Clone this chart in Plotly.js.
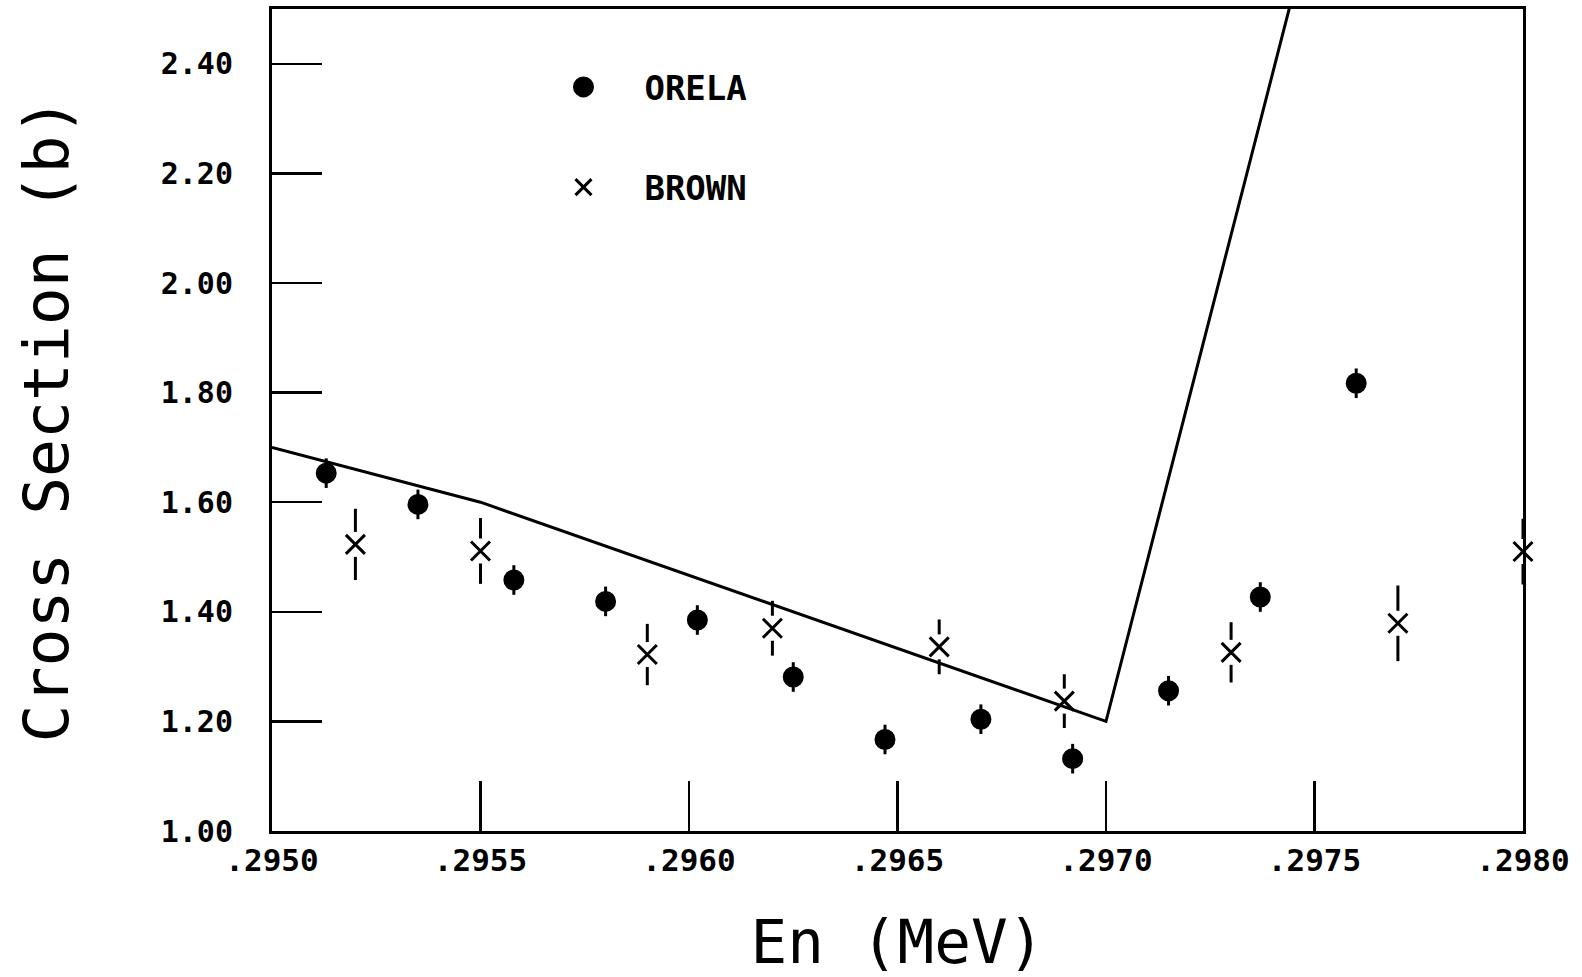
<!DOCTYPE html>
<html>
<head>
<meta charset="utf-8">
<script src="https://cdn.plot.ly/plotly-3.0.1.min.js"></script>
<style>html,body{margin:0;padding:0;background:#fff;}#chart{width:1582px;height:977px;}</style>
</head>
<body>
<div id="chart"></div>
<script>
// ---- data ----
var orelaX = [0.29513, 0.29535, 0.29558, 0.29580, 0.29602, 0.29625, 0.29647, 0.29670, 0.29692, 0.29715, 0.29737, 0.29760];
var orelaY = [1.653, 1.596, 1.458, 1.419, 1.385, 1.281, 1.167, 1.204, 1.132, 1.256, 1.427, 1.817];
var orelaErr = [0.027, 0.027, 0.027, 0.027, 0.027, 0.027, 0.027, 0.027, 0.027, 0.027, 0.027, 0.027];

var brownX = [0.2952, 0.2955, 0.2959, 0.2962, 0.2966, 0.2969, 0.2973, 0.2977, 0.2980];
var brownY = [1.523, 1.511, 1.322, 1.370, 1.336, 1.237, 1.326, 1.379, 1.510];
var brownErr = [0.065, 0.060, 0.056, 0.050, 0.050, 0.049, 0.055, 0.069, 0.060];

var curveX = [0.2950, 0.2955, 0.2970, 0.2975];
var curveY = [1.70, 1.60, 1.20, 2.68];

var xTickVals = [0.2950, 0.2955, 0.2960, 0.2965, 0.2970, 0.2975, 0.2980];
var xTickText = ['.2950', '.2955', '.2960', '.2965', '.2970', '.2975', '.2980'];
var yTickVals = [1.00, 1.20, 1.40, 1.60, 1.80, 2.00, 2.20, 2.40];
var yTickText = ['1.00', '1.20', '1.40', '1.60', '1.80', '2.00', '2.20', '2.40'];

var FONT = 'DejaVu Sans Mono, monospace';
var NB = '\u00a0';

var traces = [
  { // Brown error bars with a white mask behind the X
    x: brownX, y: brownY, type: 'scatter', mode: 'markers',
    marker: {symbol: 'square', size: 25, color: '#ffffff', line: {width: 0}},
    error_y: {type: 'data', array: brownErr, visible: true, color: '#000', thickness: 3, width: 0},
    showlegend: false, hoverinfo: 'skip', cliponaxis: false
  },
  {
    x: orelaX, y: orelaY, type: 'scatter', mode: 'markers', name: NB + NB + 'ORELA',
    legendgroup: 'a',
    marker: {symbol: 'circle', size: 16, color: '#000', line: {width: 5, color: '#000'}},
    error_y: {type: 'data', array: orelaErr, visible: true, color: '#000', thickness: 3, width: 0},
    cliponaxis: false
  },
  {
    x: brownX, y: brownY, type: 'scatter', mode: 'markers', name: NB + NB + 'BROWN',
    legendgroup: 'b',
    marker: {symbol: 'x-thin-open', size: 19, color: '#000', line: {width: 3, color: '#000'}},
    cliponaxis: false
  },
  {
    x: curveX, y: curveY, type: 'scatter', mode: 'lines',
    line: {color: '#000', width: 3},
    showlegend: false, hoverinfo: 'skip'
  }
];

var layout = {
  width: 1582, height: 977,
  paper_bgcolor: '#fff', plot_bgcolor: '#fff',
  margin: {l: 272, r: 59, t: 9, b: 146},
  font: {family: FONT, color: '#000'},
  showlegend: true,
  legend: {
    x: 0.233, y: 0.94, xanchor: 'left', yanchor: 'top',
    bgcolor: 'rgba(0,0,0,0)', borderwidth: 0,
    font: {family: FONT, size: 34, color: '#000', weight: 'bold'},
    traceorder: 'grouped', tracegroupgap: 53, itemsizing: 'trace'
  },
  xaxis: {
    range: [0.2950, 0.2980], tickmode: 'array', tickvals: xTickVals, ticktext: xTickText,
    ticks: 'inside', ticklen: 50, tickwidth: 2.5, tickcolor: '#000',
    showline: true, linecolor: '#000', linewidth: 3, mirror: true,
    showgrid: false, zeroline: false,
    tickfont: {family: FONT, size: 31, weight: 'bold'},
    title: {text: 'En (MeV)', font: {family: FONT, size: 61}, standoff: 50}
  },
  yaxis: {
    range: [1.0, 2.5], tickmode: 'array', tickvals: yTickVals, ticktext: yTickText,
    ticks: 'inside', ticklen: 50, tickwidth: 2.5, tickcolor: '#000',
    showline: true, linecolor: '#000', linewidth: 3, mirror: true,
    showgrid: false, zeroline: false,
    ticklabelstandoff: 30,
    tickfont: {family: FONT, size: 30, weight: 'bold'},
    title: {text: 'Cross Section (b)', font: {family: FONT, size: 63}, standoff: 72}
  }
};

Plotly.newPlot('chart', traces, layout, {staticPlot: true, displayModeBar: false});
</script>
</body>
</html>
